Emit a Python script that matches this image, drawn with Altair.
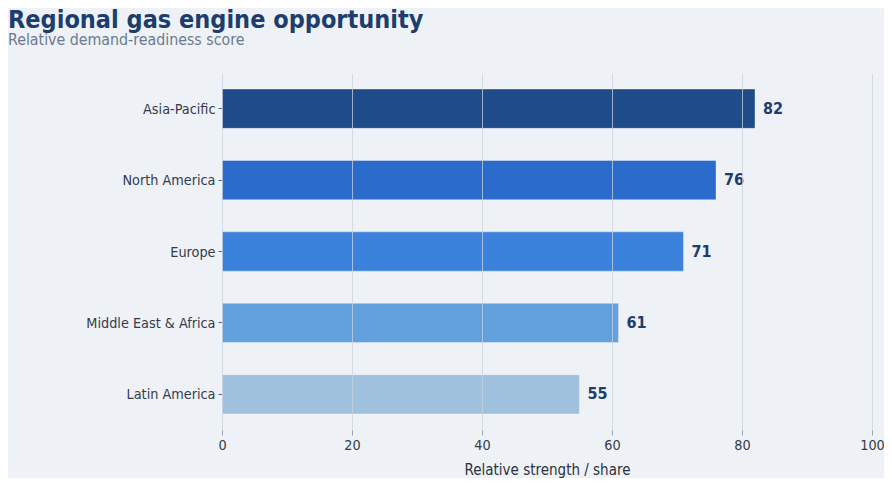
import altair as alt
import pandas as pd

# Data

regions = ['Asia-Pacific', 'North America', 'Europe', 'Middle East & Africa', 'Latin America']
scores = [82, 76, 71, 61, 55]
bar_colors = ['#1f4b8a', '#2b6bcb', '#3b82dc', '#62a0de', '#9fc1de']

TITLE = 'Regional gas engine opportunity'
SUBTITLE = 'Relative demand-readiness score'
X_TITLE = 'Relative strength / share'

FONT = 'DejaVu Sans Condensed'
BG = '#eef1f6'
INK = '#1c3d6e'

df = pd.DataFrame({'region': regions, 'score': scores, 'color': bar_colors})

base = alt.Chart(df).encode(
  y=alt.Y(
    'region:N', sort=regions, title=None,
    scale=alt.Scale(paddingInner=0.45, paddingOuter=0.225),
    axis=alt.Axis(
      domain=False, grid=False, ticks=True, tickSize=4, tickColor='#555e6b',
      labelFontSize=14.3, labelColor='#333c4a', labelFont=FONT, labelPadding=3,
      labelBaseline='middle', labelOffset=1
    )
  )
)

bars = base.mark_bar(
  stroke='#ffffff', strokeOpacity=0.35, strokeWidth=1
).encode(
  x=alt.X(
    'score:Q', title=X_TITLE,
    scale=alt.Scale(domain=[0, 100]),
    axis=alt.Axis(
      values=[0, 20, 40, 60, 80, 100], domain=False, labelFlush=False,
      grid=True, gridColor='#c9d1dd', gridOpacity=0.75, gridWidth=1,
      tickSize=5, tickColor='#9aa3b0', labelPadding=3,
      labelFontSize=14.3, labelColor='#333c4a', labelFont=FONT,
      titleFontSize=15, titleFontWeight='normal', titleColor='#2a3340',
      titleFont=FONT, titlePadding=10, zindex=1
    )
  ),
  color=alt.Color('color:N', scale=None)
)

labels = base.mark_text(
  align='left', baseline='middle', dx=8,
  font=FONT, fontSize=16, fontWeight='bold', color=INK
).encode(
  x='score:Q',
  text='score:Q'
)

chart = alt.layer(bars, labels).properties(
  width=650, height=357,
  autosize=alt.AutoSizeParams(type='none'),
  padding={'left': 214, 'top': 65, 'right': 12, 'bottom': 48},
  background=BG,
  title=alt.TitleParams(
    text=TITLE, subtitle=SUBTITLE,
    anchor='start', frame='group', dx=-214, offset=25,
    font=FONT, fontSize=25, fontWeight='bold', color=INK,
    subtitleFont=FONT, subtitleFontSize=15.8, subtitleColor='#6b7a90',
    subtitlePadding=0
  )
).configure_view(
  stroke=None
)

chart.save('out.html', embed_options={'renderer': 'svg', 'actions': False})
